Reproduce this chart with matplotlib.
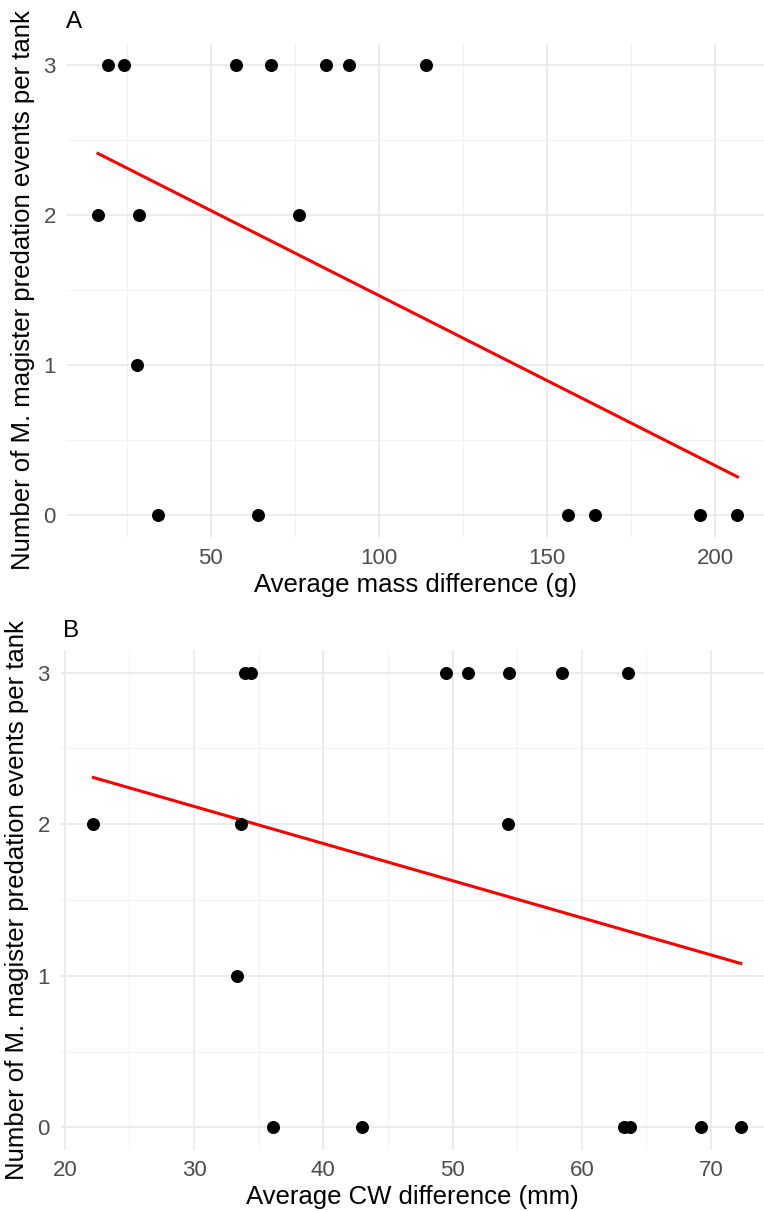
import numpy as np
import matplotlib
matplotlib.use("Agg")
import matplotlib.pyplot as plt
from matplotlib.ticker import MultipleLocator

plt.rcParams['font.family'] = ['Liberation Sans', 'DejaVu Sans']

# data
mass_diff = [19.6, 24.3, 57.5, 67.9, 84.2, 91.2, 114.0,
             16.5, 28.7, 76.4,
             28.2,
             34.5, 64.2, 156.2, 164.2, 195.6, 206.6]
mass_events = [3, 3, 3, 3, 3, 3, 3,
               2, 2, 2,
               1,
               0, 0, 0, 0, 0, 0]

cw_diff = [33.9, 34.4, 49.5, 51.2, 54.4, 58.5, 63.6,
           22.2, 33.6, 54.3,
           33.3,
           36.1, 43.0, 63.3, 63.7, 69.2, 72.3]
cw_events = [3, 3, 3, 3, 3, 3, 3,
             2, 2, 2,
             1,
             0, 0, 0, 0, 0, 0]

ylab = "Number of M. magister predation events per tank"
W, H = 764, 1211

fig = plt.figure(figsize=(W / 100, H / 100), dpi=100)


def panel(rect, x, y, xlim, xmaj, xmin, xlabel, tag, tag_xy):
    ax = fig.add_axes(rect)
    ax.set_xlim(*xlim)
    ax.set_ylim(-0.15, 3.15)
    ax.xaxis.set_major_locator(MultipleLocator(xmaj))
    ax.xaxis.set_minor_locator(MultipleLocator(xmin))
    ax.yaxis.set_major_locator(MultipleLocator(1))
    ax.yaxis.set_minor_locator(MultipleLocator(0.5))
    ax.grid(which='major', color='#EBEBEB', lw=1.3)
    ax.grid(which='minor', color='#F2F2F2', lw=0.8)
    ax.set_axisbelow(True)
    for s in ax.spines.values():
        s.set_visible(False)
    ax.tick_params(which='both', length=0, labelsize=16, colors='#4D4D4D')
    ax.tick_params(axis='x', pad=7)
    ax.tick_params(axis='y', pad=8)

    ax.scatter(x, y, s=88, color='black', zorder=3, linewidths=0)

    # linear fit, like geom_smooth(method = "lm", se = FALSE)
    b, a = np.polyfit(x, y, 1)
    xs = np.array([min(x), max(x)])
    ax.plot(xs, a + b * xs, color='#FF0000', lw=2.2, zorder=2)

    ax.set_xlabel(xlabel, fontsize=18.5, color='black', labelpad=3)
    ax.set_ylabel(ylab, fontsize=18.5, color='black', labelpad=6)
    fig.text(tag_xy[0] / W, 1 - tag_xy[1] / H, tag, fontsize=17.5,
             ha='left', va='baseline')
    return ax


# panel A: px 67..764 horizontally, 43..538 vertically
axA = panel([67 / W, 1 - 538 / H, (764 - 67) / W, (538 - 43) / H],
            mass_diff, mass_events, (7.3, 214.5), 50, 25,
            "Average mass difference (g)", "A", (66, 28))

# panel B: px 61..764 horizontally, 650..1150 vertically
axB = panel([61 / W, 1 - 1150 / H, (764 - 61) / W, (1150 - 650) / H],
            cw_diff, cw_events, (19.7, 74.1), 10, 5,
            "Average CW difference (mm)", "B", (63, 637))

fig.savefig("out.png", dpi=100, facecolor='white')
